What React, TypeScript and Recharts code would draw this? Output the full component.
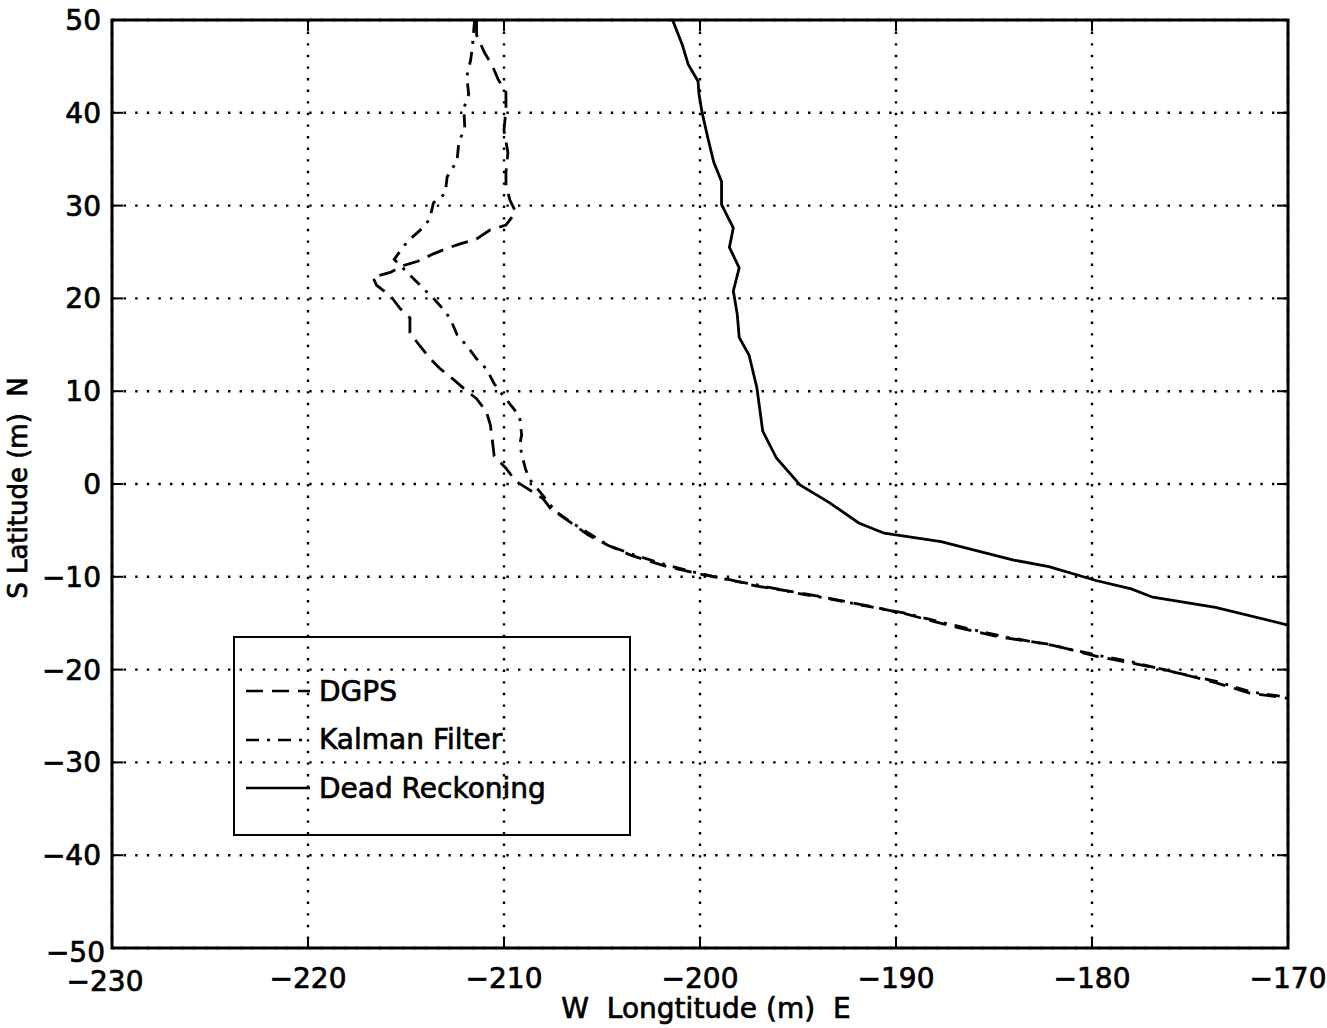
import { CartesianGrid, Line, LineChart, ReferenceArea, XAxis, YAxis } from "recharts";

// axis ticks
const lonTicks = [-230, -220, -210, -200, -190, -180, -170];
const latTicks = [-50, -40, -30, -20, -10, 0, 10, 20, 30, 40, 50];

// DGPS track (m)
const dgpsLon = [
  -211.4, -211.4, -211.0, -210.6, -210.3, -209.9, -209.9, -210.0, -209.8, -209.9, -209.9,
  -209.7, -209.4, -209.9, -210.7, -211.4, -212.2, -212.9, -213.6, -214.4, -215.2, -215.8,
  -216.7, -216.5, -215.8, -215.3, -214.8, -214.8, -214.3, -213.8, -213.3, -212.6, -212.0,
  -211.4, -210.9, -210.7, -210.6, -210.5, -209.9, -209.4, -208.8, -208.0, -207.6, -206.7,
  -205.7, -204.7, -203.5, -201.7, -200.0, -198.5, -197.1, -195.3, -193.7, -191.5, -189.5,
  -187.2, -184.7, -182.1, -179.7, -178.2, -176.3, -173.7, -172.0, -170.0,
];
const dgpsLat = [
  50, 48.4, 46.5, 45.1, 43.6, 42.2, 40.4, 38.1, 35.7, 33.6, 32.2,
  30.6, 29.3, 27.9, 27.4, 26.4, 25.9, 25.4, 24.8, 24.0, 23.5, 22.8,
  22.3, 21.4, 20.3, 18.9, 17.9, 16.3, 14.9, 13.6, 12.5, 11.3, 10.2,
  9.2, 7.8, 6.4, 4.8, 3.0, 1.7, 0.3, -0.5, -1.6, -2.7, -4.0,
  -5.5, -6.6, -7.7, -8.9, -9.7, -10.3, -11.0, -11.6, -12.2, -13.1, -14.0,
  -15.3, -16.5, -17.3, -18.6, -19.2, -20.0, -21.4, -22.5, -23.1,
];

// Kalman filter estimate (m)
const kalmanLon = [
  -211.5, -211.6, -211.7, -211.9, -211.8, -212.05, -212.0, -212.3, -212.4, -212.9, -213.0,
  -213.6, -213.8, -214.3, -214.9, -215.4, -215.6, -214.7, -213.6, -213.0, -212.7, -212.4,
  -211.9, -211.4, -210.9, -210.5, -210.0, -209.5, -209.2, -209.1, -209.2, -209.0, -208.9,
  -208.7, -208.3, -207.8, -207.4, -206.6, -205.6, -204.6, -203.4, -201.6, -200.1, -198.4,
  -197.0, -195.2, -193.6, -191.4, -189.6, -187.1, -184.6, -182.0, -179.6, -178.1, -176.2,
  -173.6, -171.9, -170.0,
];
const kalmanLat = [
  50, 47.4, 45.7, 43.9, 42.0, 40.5, 38.3, 36.9, 34.8, 33.1, 31.3,
  30.3, 28.5, 27.3, 26.2, 24.8, 24.2, 22.3, 20.0, 18.6, 17.6, 16.1,
  14.9, 13.5, 12.4, 10.8, 9.4, 8.1, 7.2, 5.3, 4.2, 2.4, 1.6,
  0.5, -0.5, -1.8, -2.9, -4.1, -5.4, -6.7, -7.6, -8.8, -9.6, -10.4,
  -10.9, -11.7, -12.3, -13.2, -13.9, -15.2, -16.4, -17.4, -18.5, -19.1, -20.1,
  -21.3, -22.4, -23.0,
];

// dead reckoning (m)
const drLon = [
  -201.4, -200.9, -200.6, -200.1, -200.05, -199.9, -199.6, -199.3, -198.9, -198.9, -198.3,
  -198.5, -198.0, -198.3, -198.1, -198.0, -197.5, -197.1, -196.8, -196.1, -194.9, -193.4,
  -191.9, -190.6, -187.7, -184.0, -182.2, -179.8, -178.0, -176.9, -173.7, -170.0,
];
const drLat = [
  50, 47.3, 45.2, 43.4, 42.0, 40.1, 37.3, 34.7, 32.6, 30.1, 27.6,
  25.5, 23.3, 20.8, 18.3, 15.8, 13.9, 10.4, 5.7, 2.8, -0.1, -2.0,
  -4.2, -5.3, -6.2, -8.2, -8.9, -10.4, -11.3, -12.2, -13.3, -15.2,
];

const toPoints = (lon: number[], lat: number[]) => lon.map((x, i) => ({ x, y: lat[i] }));

const series = [
  { name: "DGPS", data: toPoints(dgpsLon, dgpsLat), dash: "17 9" },
  { name: "Kalman Filter", data: toPoints(kalmanLon, kalmanLat), dash: "13 8 3 8" },
  { name: "Dead Reckoning", data: toPoints(drLon, drLat), dash: undefined },
];

const FONT = "'DejaVu Sans', Arial, sans-serif";
const W = 1327;
const H = 1028;
const LEFT = 112;
const RIGHT = 1288;
const TOP = 20;
const BOTTOM = 948;
const TICK = 11;

const textStyle = { fontFamily: FONT, fontSize: 28, fill: "#000", stroke: "#000", strokeWidth: 0.7 };

const fmt = (v: number) => (v < 0 ? "\u2212" + Math.abs(v) : String(v));

function XTick(props: any) {
  const { x, payload } = props;
  const v = payload.value as number;
  // matlab nudges the corner label left of the -50 label
  const tx = v === -230 ? x - 7 : x;
  const ty = v === -230 ? 991 : 988;
  return (
    <g>
      <line x1={x} x2={x} y1={BOTTOM} y2={BOTTOM - TICK} stroke="#000" strokeWidth={2} />
      <line x1={x} x2={x} y1={TOP} y2={TOP + TICK} stroke="#000" strokeWidth={2} />
      <text x={tx} y={ty} textAnchor="middle" style={textStyle}>
        {fmt(v)}
      </text>
    </g>
  );
}

function YTick(props: any) {
  const { y, payload } = props;
  const v = payload.value as number;
  const ty = v === -50 ? y + 14 : y + 10;
  return (
    <g>
      <line x1={LEFT} x2={LEFT + TICK} y1={y} y2={y} stroke="#000" strokeWidth={2} />
      <line x1={RIGHT} x2={RIGHT - TICK} y1={y} y2={y} stroke="#000" strokeWidth={2} />
      <text x={v === -50 ? 105 : 101} y={ty} textAnchor="end" style={textStyle}>
        {fmt(v)}
      </text>
    </g>
  );
}

function YTitle() {
  return (
    <text
      x={488}
      y={27}
      transform="rotate(-90 0 0) translate(-976 0)"
      textAnchor="middle"
      style={{ ...textStyle, fontSize: 26 }}
    >
      S Latitude (m){"\u00a0\u00a0"}N
    </text>
  );
}

function XTitle() {
  return (
    <text x={706} y={1018} textAnchor="middle" style={textStyle}>
      W{"\u00a0\u00a0"}Longtitude (m){"\u00a0\u00a0"}E
    </text>
  );
}

function LegendBox() {
  return (
    <div
      style={{
        position: "absolute",
        left: 233,
        top: 636,
        width: 398,
        height: 200,
        boxSizing: "border-box",
        border: "2.5px solid #000",
      }}
    >
      {series.map((s, i) => (
        <div
          key={s.name}
          style={{ position: "absolute", left: 9, top: 36 + i * 48.5, height: 34, display: "flex", alignItems: "center" }}
        >
          <svg width={68} height={34}>
            <line x1={2} x2={66} y1={17} y2={17} stroke="#000" strokeWidth={2.6} strokeDasharray={s.dash} />
          </svg>
          <span
            style={{
              fontFamily: FONT,
              fontSize: 28,
              color: "#000",
              marginLeft: 7,
              whiteSpace: "nowrap",
              WebkitTextStroke: "0.7px #000",
            }}
          >
            {s.name}
          </span>
        </div>
      ))}
    </div>
  );
}

export default function App() {
  return (
    <div style={{ position: "absolute", left: 0, top: 0, width: W, height: H, background: "#fff" }}>
      <LineChart width={W} height={H} margin={{ top: TOP, right: W - RIGHT, bottom: 0, left: 0 }}>
        <CartesianGrid stroke="#000" strokeWidth={2.4} strokeDasharray="2.4 9.2" />
        <XAxis
          type="number"
          dataKey="x"
          domain={[-230, -170]}
          ticks={lonTicks}
          interval={0}
          height={H - BOTTOM}
          axisLine={false}
          tickLine={false}
          tick={<XTick />}
          label={<XTitle />}
        />
        <YAxis
          type="number"
          dataKey="y"
          domain={[-50, 50]}
          ticks={latTicks}
          interval={0}
          width={LEFT}
          axisLine={false}
          tickLine={false}
          tick={<YTick />}
          label={<YTitle />}
        />
        <ReferenceArea x1={-230} x2={-170} y1={-50} y2={50} fill="none" stroke="#000" strokeWidth={3} />
        {series.map((s) => (
          <Line
            key={s.name}
            data={s.data}
            dataKey="y"
            name={s.name}
            type="linear"
            stroke="#000"
            strokeWidth={2.8}
            strokeDasharray={s.dash}
            dot={false}
            activeDot={false}
            isAnimationActive={false}
          />
        ))}
      </LineChart>
      <LegendBox />
    </div>
  );
}
